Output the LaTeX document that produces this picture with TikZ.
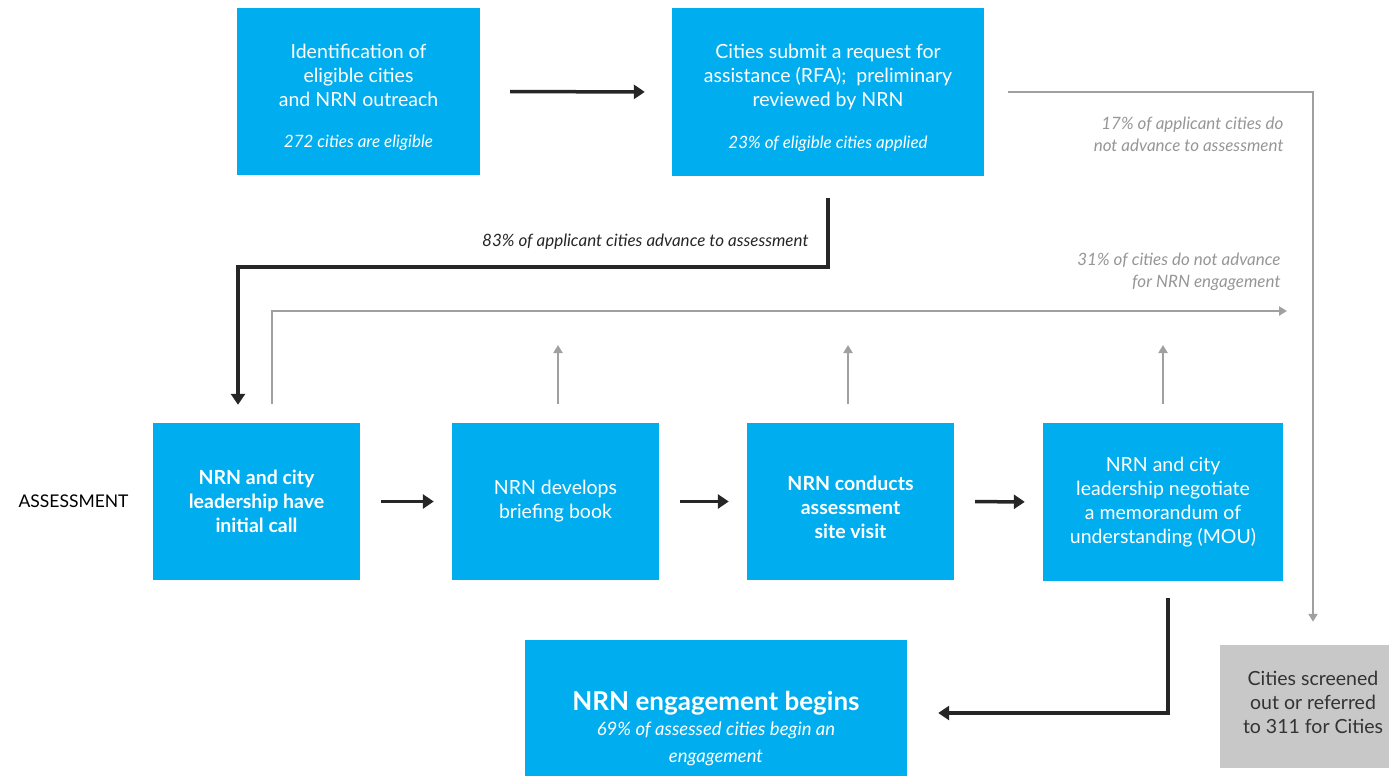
\documentclass[tikz,border=0pt]{standalone}
\usepackage{fontspec}
\setmainfont{Lato}
\usetikzlibrary{arrows.meta,calc}
\definecolor{nrnblue}{RGB}{0,174,239}
\definecolor{boxgray}{RGB}{200,200,200}
\definecolor{linegray}{RGB}{160,160,160}
\definecolor{notegray}{RGB}{150,150,150}
\newcommand\boxfont{\fontsize{19.5}{24}\selectfont}
\newcommand\subfont{\fontsize{17}{22}\selectfont\itshape}
\newcommand\tall[1]{\rule{0pt}{#1}}

\begin{document}
\begin{tikzpicture}[x=1pt,y=-1pt]
\tikzset{box/.style={fill=nrnblue,text=white,inner sep=0pt,align=center,font=\boxfont},
  rowbox/.style={box,minimum width=207pt,minimum height=157pt},
  flow/.style={draw=black!85,line width=3.5pt,-{Triangle[length=11pt,width=14pt]}},
  drop/.style={draw=linegray,line width=2pt,-{Triangle[length=8pt,width=9pt]}},
  note/.style={font=\fontsize{17}{22}\selectfont\itshape,align=right,anchor=east,text=notegray}}
\useasboundingbox (0,0) rectangle (1389,776);

% top row
\node[box,minimum width=243pt,minimum height=167pt](ident)at(358.5,91.5)
  {\tall{26pt}Identification of\\eligible cities\\and NRN outreach\\[17pt]{\subfont 272 cities are eligible}};
\node[box,minimum width=312pt,minimum height=168pt](rfa)at(828,92)
  {\tall{26pt}Cities submit a request for\\assistance (RFA);\ \ preliminary\\reviewed by NRN\\[18pt]{\subfont 23\% of eligible cities applied}};

% assessment row
\node[anchor=west,font=\fontsize{17.5}{20}\selectfont](phase)at(15,501){ASSESSMENT};
\node[rowbox](call)at(256.5,501.5){\bfseries NRN and city\\\bfseries leadership have\\\bfseries initial call};
\node[rowbox](brief)at(555.5,501.5){NRN develops\\briefing book};
\node[rowbox](visit)at(850.5,501.5){\tall{27pt}\bfseries NRN conducts\\\bfseries assessment\\\bfseries site visit};
\node[box,minimum width=240pt,minimum height=158pt](mou)at(1163,502)
  {NRN and city\\leadership negotiate\\a memorandum of\\understanding (MOU)};

% outcomes
\node[box,minimum width=382pt,minimum height=178pt](engage)at(716,729)
  {{\fontsize{26}{30}\selectfont\bfseries NRN engagement begins}\\[1pt]
   {\subfont\fontsize{18.5}{27}\selectfont 69\% of assessed cities begin an}\\[3pt]{\subfont\fontsize{18.5}{27}\selectfont engagement}};
\node[fill=boxgray,text=black!80,inner sep=0pt,align=center,font=\boxfont,
  minimum width=186pt,minimum height=123pt](screen)at(1313,706.5)
  {Cities screened\\out or referred\\to 311 for Cities\rule[-9pt]{0pt}{0pt}};

\coordinate(out2)at(1287,311);

% connectors
\draw[flow,shorten <=30pt,shorten >=27pt](ident.east)--(rfa.west);
\draw[flow,shorten <=22pt,shorten >=18pt](rfa.south)|-($(call.north)+(-18.5,-156)$)
  coordinate(turn)--([xshift=-18.5pt]call.north);
\node[anchor=east,font=\fontsize{17}{22}\selectfont\itshape,text=black!85](adv)at(812,242)
  {83\% of applicant cities advance to assessment};
\draw[drop,shorten <=24pt,shorten >=23pt](rfa.east)-|(screen.north);
\node[note](drop1)at(1287,134){17\% of applicant cities do\\not advance to assessment};
\draw[drop,shorten <=19pt]([xshift=15.5pt]call.north)|-(out2);
\node[note](drop2)at(1284,272){31\% of cities do not advance\\for NRN engagement};
\foreach \b/\dx in {brief/2.5,visit/-2.5,mou/0}
  \draw[drop,shorten <=19pt,shorten >=34pt]([xshift=\dx pt]\b.north)--([xshift=\dx pt]\b.north|-out2);
\foreach \a/\b in {call/brief,brief/visit,visit/mou}
  \draw[flow,shorten <=21pt,shorten >=18pt](\a.east)--(\b.west);
\draw[flow,shorten <=17pt,shorten >=31pt]([xshift=5pt]mou.south)|-([yshift=16pt]engage.east);
\end{tikzpicture}
\end{document}
